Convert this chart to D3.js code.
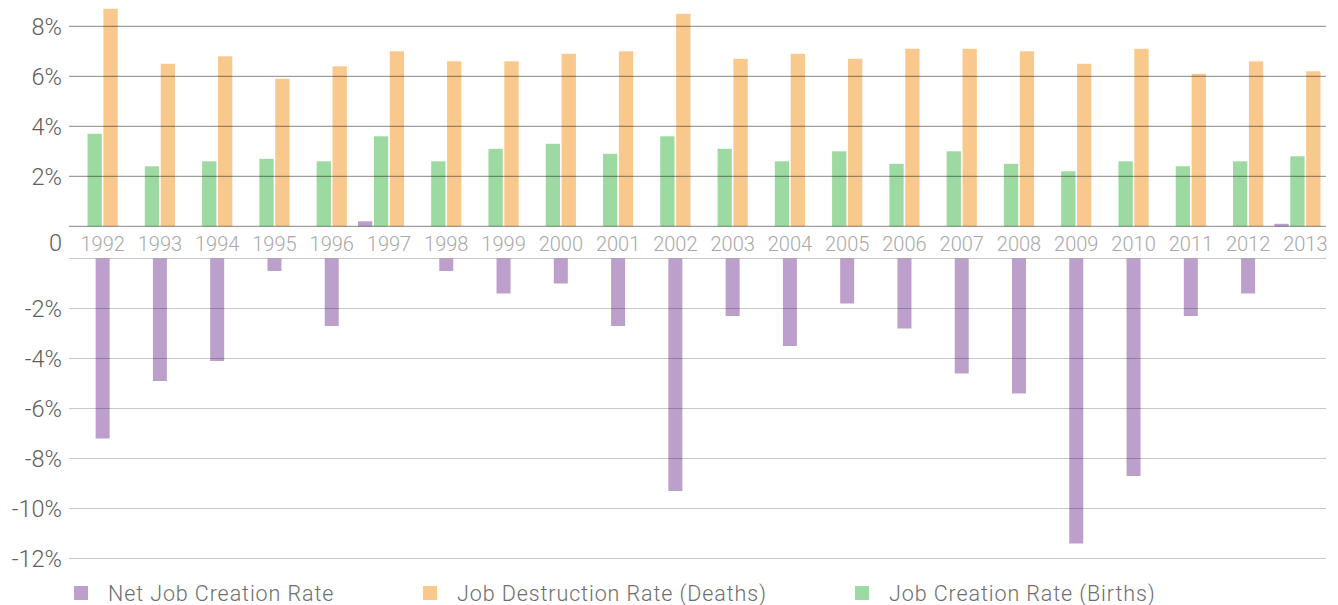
<!DOCTYPE html>
<html>
<head>
<meta charset="utf-8">
<script src="https://cdn.jsdelivr.net/npm/d3@7"></script>
<style>
  body { margin: 0; background: #fff; }
  text { font-family: Roboto, "Noto Sans", sans-serif; font-weight: 300; }
</style>
</head>
<body>
<div id="chart"></div>
<script>
// data (percent)
var years = ['1992', '1993', '1994', '1995', '1996', '1997', '1998', '1999', '2000', '2001', '2002',
  '2003', '2004', '2005', '2006', '2007', '2008', '2009', '2010', '2011', '2012', '2013'];
var netRate = [-7.2, -4.9, -4.1, -0.5, -2.7, 0.2, -0.5, -1.4, -1.0, -2.7, -9.3,
  -2.3, -3.5, -1.8, -2.8, -4.6, -5.4, -11.4, -8.7, -2.3, -1.4, 0.1];
var deathRate = [8.7, 6.5, 6.8, 5.9, 6.4, 7.0, 6.6, 6.6, 6.9, 7.0, 8.5,
  6.7, 6.9, 6.7, 7.1, 7.1, 7.0, 6.5, 7.1, 6.1, 6.6, 6.2];
var birthRate = [3.7, 2.4, 2.6, 2.7, 2.6, 3.6, 2.6, 3.1, 3.3, 2.9, 3.6,
  3.1, 2.6, 3.0, 2.5, 3.0, 2.5, 2.2, 2.6, 2.4, 2.6, 2.8];
var posTicks = [2, 4, 6, 8];
var negTicks = [-2, -4, -6, -8, -10, -12];

var series = [
  {key: 'net', name: 'Net Job Creation Rate', color: '#bd9fcb', values: netRate},
  {key: 'deaths', name: 'Job Destruction Rate (Deaths)', color: '#f9c88c', values: deathRate},
  {key: 'births', name: 'Job Creation Rate (Births)', color: '#9ddaa2', values: birthRate}
];

var width = 1338, height = 605;
var gridLeft = 69, gridRight = 1326;

var svg = d3.select('#chart').append('svg')
  .attr('width', width)
  .attr('height', height);

var x0 = d3.scaleBand().domain(years).range([74, 1334]);
// top panel has 4 slots per year; the last one stays empty
var x1 = d3.scaleBand().domain(['net', 'births', 'deaths', 'none'])
  .range([-31, 31]).paddingInner(0.1);

var yPos = d3.scaleLinear().domain([0, 8]).range([226.3, 26.3]);
var yNeg = d3.scaleLinear().domain([0, -12]).range([258.5, 558.5]);

function center(i) {
  return x0(years[i]) + x0.bandwidth() / 2;
}

// positive bars
var topBars = [];
series.forEach(function (s) {
  s.values.forEach(function (v, i) {
    if (v > 0) topBars.push({key: s.key, color: s.color, i: i, v: v});
  });
});

svg.append('g').selectAll('rect')
  .data(topBars)
  .enter().append('rect')
  .attr('x', function (d) { return center(d.i) + x1(d.key); })
  .attr('width', x1.bandwidth())
  .attr('y', function (d) { return yPos(d.v); })
  .attr('height', function (d) { return yPos(0) - yPos(d.v); })
  .attr('fill', function (d) { return d.color; });

// negative net bars, centered on the year
var negBars = netRate.map(function (v, i) { return {i: i, v: v}; })
  .filter(function (d) { return d.v < 0; });

svg.append('g').selectAll('rect')
  .data(negBars)
  .enter().append('rect')
  .attr('x', function (d) { return center(d.i) - 7; })
  .attr('width', 14)
  .attr('y', yNeg(0))
  .attr('height', function (d) { return yNeg(d.v) - yNeg(0); })
  .attr('fill', series[0].color);

// gridlines on top of the bars
svg.append('g').selectAll('line')
  .data([0].concat(posTicks))
  .enter().append('line')
  .attr('x1', gridLeft).attr('x2', gridRight)
  .attr('y1', function (d) { return yPos(d); })
  .attr('y2', function (d) { return yPos(d); })
  .attr('stroke', 'rgba(0,0,0,0.38)')
  .attr('stroke-width', 1.2);

svg.append('g').selectAll('line')
  .data([0].concat(negTicks))
  .enter().append('line')
  .attr('x1', gridLeft).attr('x2', gridRight)
  .attr('y1', function (d) { return yNeg(d); })
  .attr('y2', function (d) { return yNeg(d); })
  .attr('stroke', 'rgba(0,0,0,0.22)')
  .attr('stroke-width', 1.2);

// y labels
var fmt = function (d) { return d + '%'; };
var yLabels = svg.append('g')
  .attr('font-size', 23.5)
  .attr('fill', '#5e5e5e')
  .attr('text-anchor', 'end');

yLabels.selectAll('.pos')
  .data(posTicks)
  .enter().append('text')
  .attr('class', 'pos')
  .attr('x', 62)
  .attr('y', function (d) { return yPos(d); })
  .attr('dy', '0.36em')
  .text(fmt);

yLabels.selectAll('.neg')
  .data(negTicks)
  .enter().append('text')
  .attr('class', 'neg')
  .attr('x', 62)
  .attr('y', function (d) { return yNeg(d); })
  .attr('dy', '0.36em')
  .text(fmt);

yLabels.append('text')
  .attr('x', 62)
  .attr('y', 251)
  .text('0');

// year labels between the two panels
svg.append('g').selectAll('text')
  .data(years)
  .enter().append('text')
  .attr('x', function (d, i) { return center(i); })
  .attr('y', 251)
  .attr('text-anchor', 'middle')
  .attr('font-size', 20)
  .attr('fill', '#a8a8a8')
  .text(function (d) { return d; });

// legend
var legendX = [74, 423, 855];
var legend = svg.append('g').selectAll('g')
  .data(series)
  .enter().append('g')
  .attr('transform', function (d, i) { return 'translate(' + legendX[i] + ',586)'; });

legend.append('rect')
  .attr('width', 14).attr('height', 14)
  .attr('fill', function (d) { return d.color; });

legend.append('text')
  .attr('x', 34)
  .attr('y', 7)
  .attr('dy', '0.36em')
  .attr('font-size', 21.5)
  .attr('letter-spacing', 0.9)
  .attr('fill', '#6e6e6e')
  .text(function (d) { return d.name; });
</script>
</body>
</html>
